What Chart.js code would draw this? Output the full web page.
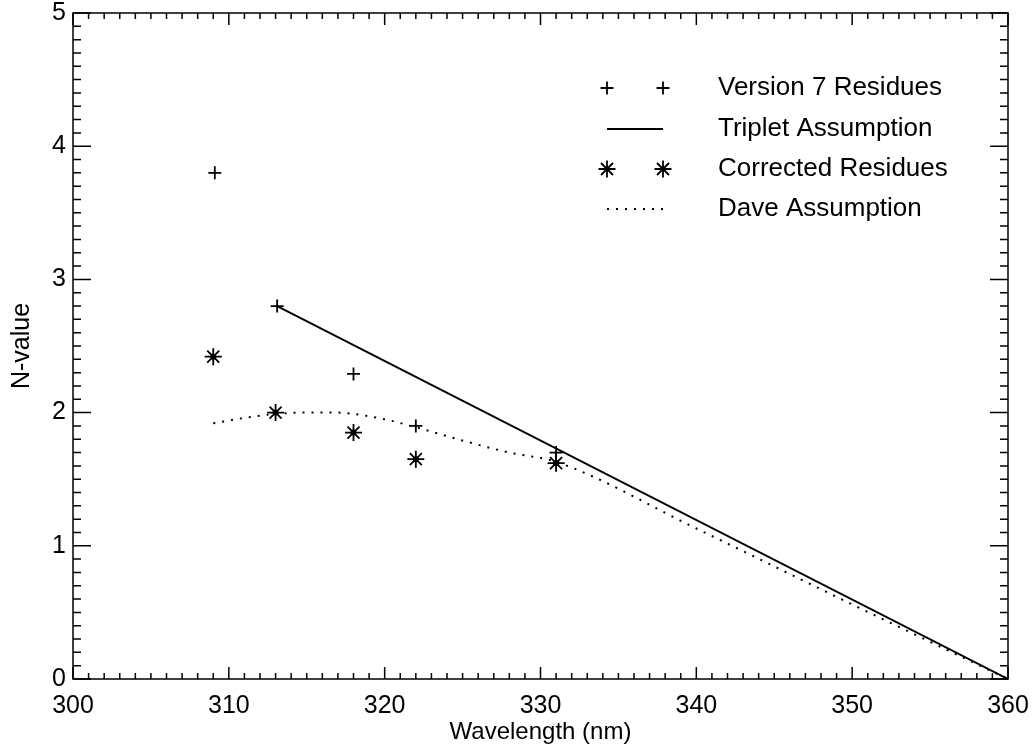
<!DOCTYPE html>
<html>
<head>
<meta charset="utf-8">
<script src="https://cdn.jsdelivr.net/npm/chart.js@4.4.1/dist/chart.umd.min.js"></script>
<style>
  html, body { margin: 0; padding: 0; background: #ffffff; }
  #wrap { width: 1035px; height: 749px; position: relative; }
</style>
</head>
<body>
<div id="wrap"><canvas id="c" width="1035" height="749"></canvas></div>
<script>
// ---- Data ----
const seriesNames = ['Version 7 Residues', 'Triplet Assumption', 'Corrected Residues', 'Dave Assumption'];

const v7Wavelengths = [309.1, 313.1, 318.0, 322.0, 331.0];
const v7Values      = [3.80, 2.80, 2.29, 1.90, 1.70];

const tripletWavelengths = [313.1, 360.0];
const tripletValues      = [2.80, 0.00];

const correctedWavelengths = [309.0, 313.0, 318.0, 322.0, 331.0];
const correctedValues      = [2.42, 2.00, 1.85, 1.65, 1.62];

const daveWavelengths = [309, 311, 313, 315, 317, 318, 320, 322, 325, 328, 331, 340, 350, 360];
const daveValues      = [1.92, 1.96, 1.99, 2.00, 2.00, 1.99, 1.95, 1.89, 1.79, 1.70, 1.63, 1.13, 0.56, 0.00];

const xTickLabels = [300, 310, 320, 330, 340, 350, 360];
const yTickLabels = [0, 1, 2, 3, 4, 5];

const toPoints = (xs, ys) => xs.map((x, i) => ({ x: x, y: ys[i] }));
const FONT = '"Liberation Sans", Arial, sans-serif';

// ---- Plugin: box, inward major/minor ticks on all four sides ----
const frameTicks = {
  id: 'frameTicks',
  afterDatasetsDraw(chart) {
    const { ctx, chartArea: a, scales: { x, y } } = chart;
    ctx.save();
    ctx.strokeStyle = '#000';
    ctx.lineWidth = 1.5;
    ctx.strokeRect(a.left, a.top, a.right - a.left, a.bottom - a.top);
    ctx.beginPath();
    for (let v = 300; v <= 360; v += 1) {
      const px = x.getPixelForValue(v);
      const major = (v % 10 === 0);
      const len = major ? 12 : 6;
      ctx.moveTo(px, a.bottom); ctx.lineTo(px, a.bottom - len);
      ctx.moveTo(px, a.top); ctx.lineTo(px, a.top + len);
    }
    for (let k = 0; k <= 50; k++) {
      const v = k / 10;
      const py = y.getPixelForValue(v);
      const major = (k % 10 === 0);
      const len = major ? 18 : 8;
      ctx.moveTo(a.left, py); ctx.lineTo(a.left + len, py);
      ctx.moveTo(a.right, py); ctx.lineTo(a.right - len, py);
    }
    ctx.stroke();
    ctx.restore();
  }
};

// ---- Plugin: filled centre dot on asterisk markers (as in the IDL plot) ----
const starDots = {
  id: 'starDots',
  afterDatasetsDraw(chart) {
    const { ctx } = chart;
    ctx.save();
    ctx.fillStyle = '#000';
    chart.data.datasets.forEach((ds, i) => {
      if (ds.pointStyle !== 'star') return;
      chart.getDatasetMeta(i).data.forEach(pt => {
        ctx.beginPath();
        ctx.arc(pt.x, pt.y, 3, 0, Math.PI * 2);
        ctx.fill();
      });
    });
    ctx.restore();
  }
};

// ---- Plugin: IDL-style legend drawn from the dataset styles ----
const idlLegend = {
  id: 'idlLegend',
  afterDraw(chart) {
    const { ctx } = chart;
    const symX1 = 607, symX2 = 663, textX = 718;
    const rowY = [88, 129, 169, 209];
    ctx.save();
    chart.data.datasets.forEach((ds, i) => {
      const yy = rowY[i];
      ctx.strokeStyle = ds.borderColor;
      ctx.fillStyle = ds.borderColor;
      if (ds.showLine) {
        ctx.lineWidth = ds.borderWidth;
        ctx.setLineDash(ds.borderDash || []);
        ctx.beginPath();
        ctx.moveTo(symX1, yy);
        ctx.lineTo(symX2, yy);
        ctx.stroke();
        ctx.setLineDash([]);
      } else {
        const opts = { pointStyle: ds.pointStyle, radius: ds.pointRadius, borderWidth: ds.pointBorderWidth, rotation: 0 };
        ctx.lineWidth = ds.pointBorderWidth;
        Chart.helpers.drawPoint(ctx, opts, symX1, yy);
        Chart.helpers.drawPoint(ctx, opts, symX2, yy);
      }
      ctx.fillStyle = '#000';
      ctx.font = '26px ' + FONT;
      ctx.textAlign = 'left';
      ctx.textBaseline = 'middle';
      ctx.fillText(seriesNames[i], textX, yy);
    });
    ctx.restore();
  }
};

const ctx = document.getElementById('c').getContext('2d');
new Chart(ctx, {
  type: 'scatter',
  data: {
    datasets: [
      {
        label: seriesNames[0],
        data: toPoints(v7Wavelengths, v7Values),
        showLine: false,
        pointStyle: 'cross',
        pointRadius: 6.5,
        pointBorderWidth: 1.8,
        borderColor: '#000',
        backgroundColor: '#000'
      },
      {
        label: seriesNames[1],
        data: toPoints(tripletWavelengths, tripletValues),
        showLine: true,
        borderColor: '#000',
        borderWidth: 2,
        pointRadius: 0,
        tension: 0
      },
      {
        label: seriesNames[2],
        data: toPoints(correctedWavelengths, correctedValues),
        showLine: false,
        pointStyle: 'star',
        pointRadius: 8.5,
        pointBorderWidth: 1.8,
        borderColor: '#000',
        backgroundColor: '#000'
      },
      {
        label: seriesNames[3],
        data: toPoints(daveWavelengths, daveValues),
        showLine: true,
        borderColor: '#000',
        borderWidth: 2,
        borderDash: [2, 7],
        pointRadius: 0,
        cubicInterpolationMode: 'monotone'
      }
    ]
  },
  options: {
    responsive: false,
    animation: false,
    layout: { padding: { top: 13, right: 27, left: 0, bottom: 0 } },
    plugins: {
      legend: { display: false },
      tooltip: { enabled: false }
    },
    scales: {
      x: {
        type: 'linear',
        min: 300, max: 360,
        afterBuildTicks: (s) => { s.ticks = xTickLabels.map(v => ({ value: v })); },
        afterFit: (s) => { s.height = 70; s.paddingLeft = 0; s.paddingRight = 0; },
        grid: { display: false, drawTicks: false },
        border: { display: false },
        ticks: {
          color: '#000',
          padding: 12,
          font: { family: FONT, size: 25 },
          maxRotation: 0
        },
        title: {
          display: true,
          text: 'Wavelength (nm)',
          color: '#000',
          font: { family: FONT, size: 24 },
          padding: { top: 0, bottom: 2 }
        }
      },
      y: {
        type: 'linear',
        min: 0, max: 5,
        afterBuildTicks: (s) => { s.ticks = yTickLabels.map(v => ({ value: v })); },
        afterFit: (s) => { s.width = 73; s.paddingTop = 0; s.paddingBottom = 0; },
        grid: { display: false, drawTicks: false },
        border: { display: false },
        ticks: {
          color: '#000',
          padding: 7,
          font: { family: FONT, size: 25 }
        },
        title: {
          display: true,
          text: 'N-value',
          color: '#000',
          font: { family: FONT, size: 25 },
          padding: { top: 7, bottom: 0 }
        }
      }
    }
  },
  plugins: [frameTicks, starDots, idlLegend]
});
</script>
</body>
</html>
